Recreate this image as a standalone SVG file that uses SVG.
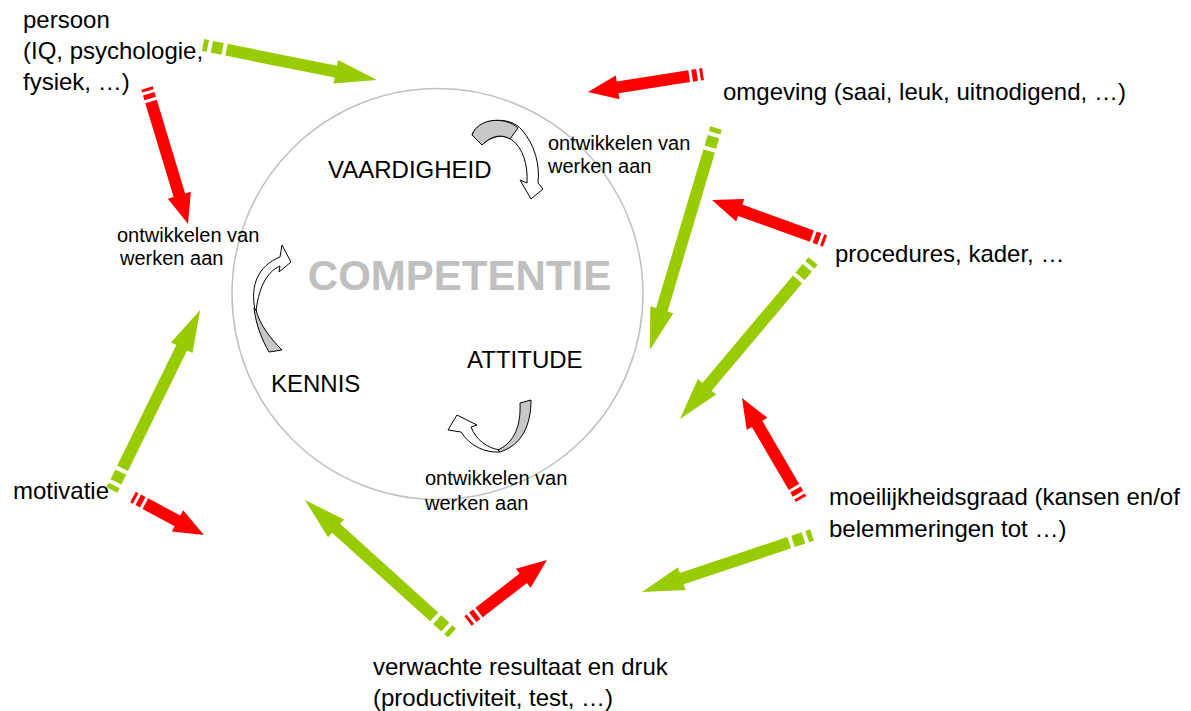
<svg xmlns="http://www.w3.org/2000/svg" xmlns:xlink="http://www.w3.org/1999/xlink" width="1191" height="711" viewBox="0 0 1191 711">
<style>
text{font-family:"Liberation Sans",Arial,sans-serif;fill:#000}
.lbl{font-size:24px}
.sm{font-size:20px}
.g{fill:#99cc00}
.r{fill:#ff0000}
.cw{fill:#fff;stroke:#000;stroke-width:1}
.cg{fill:#c8c8c8;stroke:#000;stroke-width:1}
</style>
<defs>
<g id="gs"><rect x="0" y="-6" width="5" height="12"/><rect x="9" y="-6" width="11" height="12"/></g>
<g id="rs"><rect x="0" y="-6" width="3" height="12"/><rect x="6" y="-6" width="5" height="12"/></g>
</defs>
<rect width="1191" height="711" fill="#fff"/>
<g id="circle">
<circle cx="437.5" cy="294" r="205.5" fill="none" stroke="#c0c0c0" stroke-width="1.5"/>
<text x="459.5" y="290" text-anchor="middle" style="font-size:42px;font-weight:bold;fill:#c0c0c0">COMPETENTIE</text>
</g>
<g id="vaardigheid">
<text class="lbl" x="328" y="178">VAARDIGHEID</text>
<path class="cw" d="M472,135 C478,118 510,115 522,130 C535,145 540,165 538,183 L543,189 L531,199 L520,180 L527,183 C528,165 523,148 512,140 C502,133 490,137 482,145 Z"/>
<path class="cg" d="M472,135 C478,118 505,116 518,128 L510,139 C500,133 490,137 482,145 Z"/>
<text class="sm" x="548" y="150">ontwikkelen van</text>
<text class="sm" x="548" y="173">werken aan</text>
</g>
<g id="kennis">
<text class="lbl" x="271" y="392">KENNIS</text>
<path class="cw" d="M255,310 C250,285 258,266 280,257 L282,245 L291,262 L279,272 L280,266 C266,272 258,290 256,312 Z"/>
<path class="cg" d="M254,308 C256,325 262,340 269,352 L282,350 C270,338 260,325 256,310 Z"/>
<text class="sm" x="117" y="242">ontwikkelen van</text>
<text class="sm" x="120" y="265">werken aan</text>
</g>
<g id="attitude">
<text class="lbl" x="467" y="368">ATTITUDE</text>
<path class="cw" d="M500,452 C485,453 470,446 461,432 L448,430 L457,415 L477,425 L471,427 C476,440 487,448 500,450 Z"/>
<path class="cg" d="M520,403 L531,400 C531,425 522,445 500,452 L498,450 C515,442 521,425 520,403 Z"/>
<text class="sm" x="425" y="485">ontwikkelen van</text>
<text class="sm" x="425" y="510">werken aan</text>
</g>
<g id="persoon"><text class="lbl" x="23" y="28">persoon</text><text class="lbl" x="23" y="59">(IQ, psychologie,</text><text class="lbl" x="23" y="90">fysiek, …)</text></g>
<g id="omgeving"><text class="lbl" x="723" y="100">omgeving (saai, leuk, uitnodigend, …)</text></g>
<g id="procedures"><text class="lbl" x="835" y="262">procedures, kader, …</text></g>
<g id="moeilijkheidsgraad"><text class="lbl" x="829" y="505">moeilijkheidsgraad (kansen en/of</text><text class="lbl" x="829" y="537">belemmeringen tot …)</text></g>
<g id="verwachte"><text class="lbl" x="373" y="675">verwachte resultaat en druk</text><text class="lbl" x="373" y="706">(productiviteit, test, …)</text></g>
<g id="motivatie"><text class="lbl" x="13" y="499">motivatie</text></g>
<g id="connectors">
<g class="g" transform="translate(203,45) rotate(11.37)"><use xlink:href="#gs"/><polygon points="24,-6 135.5,-6 135.5,-12 177.5,0 135.5,12 135.5,6 24,6"/></g>
<g class="r" transform="translate(703,74) rotate(171.1)"><use xlink:href="#rs"/><polygon points="14,-6 86.4,-6 86.4,-12 116.4,0 86.4,12 86.4,6 14,6"/></g>
<g class="r" transform="translate(147,88) rotate(73.2)"><use xlink:href="#rs"/><polygon points="14,-6 112,-6 112,-12 142,0 112,12 112,6 14,6"/></g>
<g class="g" transform="translate(716,128) rotate(106.6)"><use xlink:href="#gs"/><polygon points="24,-6 189.6,-6 189.6,-12 231.6,0 189.6,12 189.6,6 24,6"/></g>
<g class="r" transform="translate(825,241) rotate(199.94)"><use xlink:href="#rs"/><polygon points="14,-6 90.2,-6 90.2,-12 120.2,0 90.2,12 90.2,6 14,6"/></g>
<g class="g" transform="translate(813,261) rotate(130.1)"><use xlink:href="#gs"/><polygon points="24,-6 164.5,-6 164.5,-12 206.5,0 164.5,12 164.5,6 24,6"/></g>
<g class="r" transform="translate(801,499) rotate(-120.3)"><use xlink:href="#rs"/><polygon points="14,-6 87,-6 87,-12 117,0 87,12 87,6 14,6"/></g>
<g class="g" transform="translate(812,535) rotate(161.5)"><use xlink:href="#gs"/><polygon points="24,-6 137.3,-6 137.3,-12 179.3,0 137.3,12 137.3,6 24,6"/></g>
<g class="r" transform="translate(468,621) rotate(-37.7)"><use xlink:href="#rs"/><polygon points="14,-6 69.8,-6 69.8,-12 99.8,0 69.8,12 69.8,6 14,6"/></g>
<g class="g" transform="translate(452,633) rotate(-137.9)"><use xlink:href="#gs"/><polygon points="24,-6 156.2,-6 156.2,-12 198.2,0 156.2,12 156.2,6 24,6"/></g>
<g class="r" transform="translate(133,497) rotate(28.2)"><use xlink:href="#rs"/><polygon points="14,-6 50.5,-6 50.5,-12 80.5,0 50.5,12 50.5,6 14,6"/></g>
<g class="g" transform="translate(112,490) rotate(-63.9)"><use xlink:href="#gs"/><polygon points="24,-6 158.4,-6 158.4,-12 200.4,0 158.4,12 158.4,6 24,6"/></g>
</g>
</svg>
